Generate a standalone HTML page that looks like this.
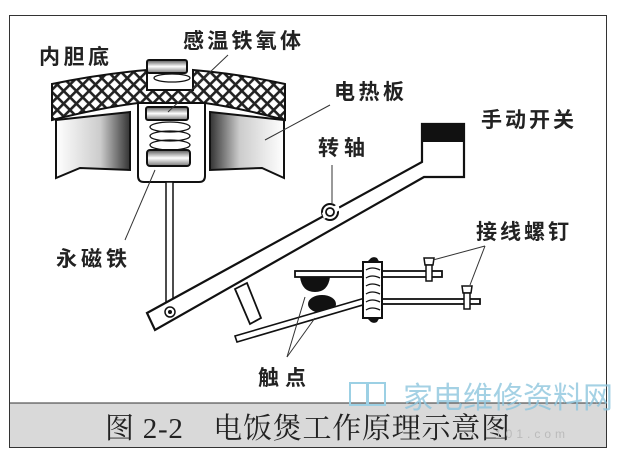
<!DOCTYPE html>
<html><head><meta charset="utf-8"><style>
html,body{margin:0;padding:0;background:#fff;width:625px;height:458px;overflow:hidden}
svg{display:block}
.l{font-family:"Liberation Sans","Noto Sans CJK SC",sans-serif;font-weight:bold;font-size:21px;fill:#222}
</style></head><body>
<svg width="625" height="458" viewBox="0 0 625 458" xmlns="http://www.w3.org/2000/svg">
<defs>
<pattern id="hx" width="9" height="9" patternUnits="userSpaceOnUse" patternTransform="rotate(45)">
<rect width="9" height="9" fill="#fff"/><rect width="2.6" height="9" fill="#222"/><rect width="9" height="2.6" fill="#222"/>
</pattern>
<linearGradient id="gl" x1="0" x2="1"><stop offset="0" stop-color="#fff"/><stop offset="0.6" stop-color="#ccc"/><stop offset="1" stop-color="#333"/></linearGradient>
<linearGradient id="gr" x1="0" x2="1"><stop offset="0" stop-color="#333"/><stop offset="0.4" stop-color="#ccc"/><stop offset="1" stop-color="#fff"/></linearGradient>
<linearGradient id="gd" x1="0" x2="0" y1="0" y2="1"><stop offset="0" stop-color="#555"/><stop offset="0.5" stop-color="#fff"/><stop offset="1" stop-color="#777"/></linearGradient>
</defs>
<rect x="9.5" y="15.5" width="597" height="432" fill="#fff" stroke="#333" stroke-width="1"/>
<rect x="10" y="403" width="596" height="44" fill="#d9d9d9"/>
<line x1="10" y1="403" x2="606" y2="403" stroke="#333"/>
<!-- heating plate -->
<path d="M56 120 L130 112 L130 170 L80 168 L56 178 Z" fill="url(#gl)" stroke="#111" stroke-width="2"/>
<path d="M210 112 L284 120 L284 178 L262 168 L210 170 Z" fill="url(#gr)" stroke="#111" stroke-width="2"/>
<!-- inner pot crosshatch -->
<path d="M52 84 Q100 74 147 70 L147 90 L193 90 L193 70 Q240 74 285 84 L285 120 Q240 108 205 103 L138 103 Q100 108 52 120 Z" fill="url(#hx)" stroke="#111" stroke-width="2"/>
<!-- sensor housing -->
<path d="M138 103 L205 103 L205 176 Q205 182 199 182 L144 182 Q138 182 138 176 Z" fill="#fff" stroke="#111" stroke-width="2"/>
<rect x="146" y="107" width="42" height="13" rx="2" fill="url(#gd)" stroke="#111" stroke-width="2"/>
<g fill="none" stroke="#111" stroke-width="1.3">
<ellipse cx="170" cy="127" rx="20" ry="5"/><ellipse cx="170" cy="136" rx="20" ry="5"/><ellipse cx="170" cy="145" rx="20" ry="5"/>
<ellipse cx="172" cy="78" rx="18" ry="4"/>
</g>
<rect x="147" y="150" width="43" height="16" rx="3" fill="url(#gd)" stroke="#111" stroke-width="2"/>
<rect x="147" y="60" width="40" height="13" rx="2" fill="url(#gd)" stroke="#111" stroke-width="2"/>
<!-- rod -->
<rect x="166" y="182" width="7" height="128" fill="#fff" stroke="#111" stroke-width="1.5"/>
<!-- lever -->
<path d="M147 313 L422 162 L422 124 L464 124 L464 177 L424 177 L155 330 Z" fill="#fff" stroke="#111" stroke-width="2.2"/>
<rect x="422" y="124" width="42" height="18" fill="#111"/>
<circle cx="330" cy="212" r="8" fill="#fff" stroke="#111" stroke-width="2"/>
<path d="M322 213 L338 204 L340 210 L324 219Z" fill="#fff"/>
<circle cx="330" cy="212" r="4" fill="#fff" stroke="#111" stroke-width="1.8"/>
<circle cx="170" cy="312" r="5" fill="#fff" stroke="#111" stroke-width="1.5"/>
<circle cx="170" cy="312" r="2" fill="#111"/>
<!-- stud -->
<path d="M235 289 L247 283 L261 318 L250 324 Z" fill="#fff" stroke="#111" stroke-width="1.8"/>
<!-- contacts -->
<rect x="295" y="271" width="147" height="6" fill="#fff" stroke="#111" stroke-width="1.8"/>
<path d="M300 277 Q302 292 315 292 Q328 292 330 277 Z" fill="#111"/>
<rect x="365" y="299" width="115" height="5" fill="#fff" stroke="#111" stroke-width="1.8"/>
<ellipse cx="322" cy="304" rx="14" ry="9" fill="#111"/>
<path d="M235 336 L365 298 L366 304 L237 342 Z" fill="#fff" stroke="#111" stroke-width="1.6"/>
<rect x="363" y="262" width="19" height="56" fill="#fff" stroke="#111" stroke-width="2"/>
<path d="M371 258 a5 4 0 0 1 6 0 L380 263 L366 263Z M366 317 L380 317 L377 322 a5 4 0 0 1 -6 0Z" fill="#111"/>
<path d="M366 270 q6 -4 14 0 M366 278 q6 -4 14 0 M366 286 q6 -4 14 0 M366 294 q6 -4 14 0 M366 302 q6 -4 14 0 M366 310 q6 -4 14 0" fill="none" stroke="#111" stroke-width="1.3"/>
<g fill="#fff" stroke="#111" stroke-width="1.5">
<path d="M424 258 L434 258 L433 265 L425 265Z"/><rect x="426" y="265" width="6" height="16"/>
<path d="M462 286 L472 286 L471 293 L463 293Z"/><rect x="464" y="293" width="6" height="16"/>
</g>
<!-- leader lines -->
<g stroke="#333" stroke-width="1" fill="none">
<line x1="228" y1="55" x2="168" y2="112"/>
<line x1="330" y1="105" x2="265" y2="140"/>
<line x1="332" y1="165" x2="332" y2="203"/>
<line x1="485" y1="246" x2="433" y2="260"/>
<line x1="485" y1="246" x2="470" y2="285"/>
<line x1="125" y1="240" x2="155" y2="170"/>
<line x1="287" y1="357" x2="305" y2="297"/>
<line x1="287" y1="357" x2="315" y2="318"/>
</g>
<!-- labels -->
<text class="l" x="39" y="64" textLength="70">内胆底</text>
<text class="l" x="183" y="48" textLength="118">感温铁氧体</text>
<text class="l" x="334" y="99" textLength="70">电热板</text>
<text class="l" x="481" y="127" textLength="93">手动开关</text>
<text class="l" x="318" y="155" textLength="47">转轴</text>
<text class="l" x="476" y="239" textLength="93">接线螺钉</text>
<text class="l" x="56" y="266" textLength="71">永磁铁</text>
<text class="l" x="258" y="385" textLength="48">触点</text>
<text x="105" y="438" font-family="'Liberation Serif','Noto Serif CJK SC',serif" font-size="29" fill="#222" textLength="405">图 2-2　电饭煲工作原理示意图</text>
<!-- watermark -->
<rect x="350" y="383" width="17" height="22" fill="none" stroke="#9cd0e4" stroke-width="2"/>
<rect x="368" y="383" width="17" height="22" fill="none" stroke="#9cd0e4" stroke-width="2"/>
<text x="403" y="408" font-family="'Noto Sans CJK SC',sans-serif" font-size="30" fill="#8ec6de" opacity="0.8" textLength="210">家电维修资料网</text>
<text x="495" y="438" font-family="'Liberation Sans',sans-serif" font-size="12" fill="#bbb" letter-spacing="4">101.com</text>
</svg>
</body></html>
